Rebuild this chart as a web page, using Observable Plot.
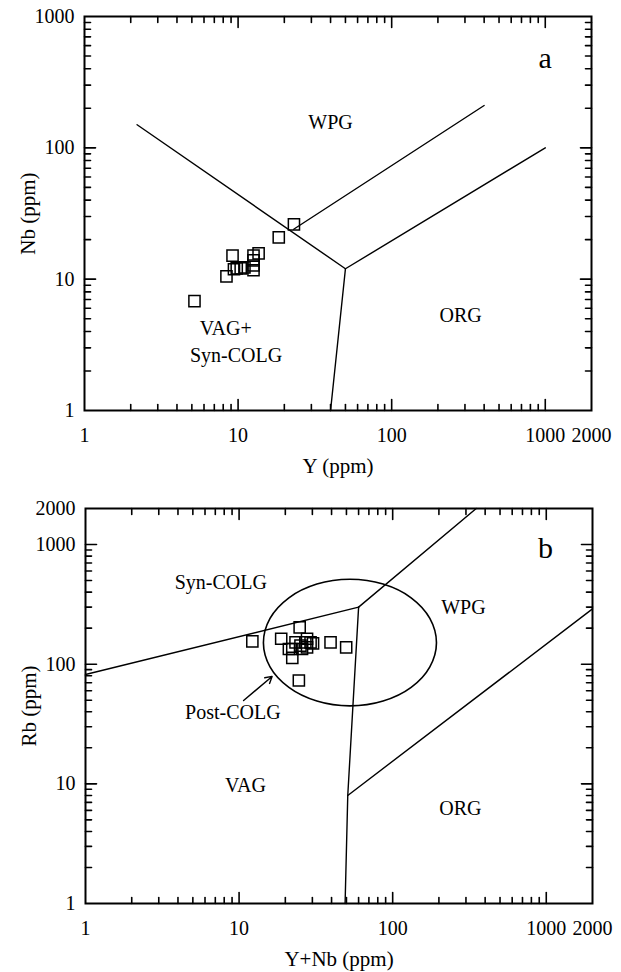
<!DOCTYPE html>
<html>
<head>
<meta charset="utf-8">
<script src="https://cdn.jsdelivr.net/npm/d3@7"></script>
<script src="https://cdn.jsdelivr.net/npm/@observablehq/plot@0.6"></script>
<style>
  html, body { margin: 0; padding: 0; background: white; }
</style>
</head>
<body>
<div id="chart"></div>
<script>
// ---------- Panel a : Nb vs Y ----------
const aY  = [5.2, 8.4, 9.2, 9.4, 9.8, 10.4, 11.0, 12.6, 12.6, 12.6, 12.6, 13.6, 18.4, 23.1];
const aNb = [6.8, 10.5, 15.1, 11.9, 12.1, 12.1, 12.3, 11.7, 12.7, 13.9, 15.1, 15.7, 20.8, 26.1];

const aLineVagWpg   = [[2.2, 150], [50, 12]];
const aLineVagOrg   = [[50, 12], [40, 1]];
const aLineOrgWpg   = [[50, 12], [1000, 100]];
const aLineWpgUpper = [[23, 24], [400, 210]];

const aLabelText = ["WPG", "ORG", "VAG+", "Syn-COLG"];
const aLabelX    = [40, 281, 8.3, 9.7];
const aLabelY    = [156, 5.3, 4.2, 2.62];
const aPanelTag  = ["a"]; const aTagX = [1000]; const aTagY = [480];

// ---------- Panel b : Rb vs Y+Nb ----------
const bYNb = [12.2, 18.8, 24.8, 22.2, 22.2, 24.5, 39.4, 49.8, 23.3, 25.7, 27.7, 29.2, 30.3, 27.7, 25.1, 21.1, 27.0];
const bRb  = [155, 163, 203, 134, 113, 73, 152, 138, 152, 134, 163, 152, 149, 138, 143, 134, 152];

const bLineSynVag = [[1, 82], [60, 300]];
const bLineSynWpg = [[60, 300], [350, 2000]];
const bLineVagWpg = [[60, 300], [51, 8], [49, 1]];
const bLineOrgWpg = [[51, 8], [2000, 290]];
// Post-COLG field outline, points read around the ellipse
const bPostColg = [
  [192.8, 151.4], [174.6, 241.3], [131.9, 358.6], [86.6, 467], [52.7, 512], [32.1, 467],
  [21.1, 358.6], [15.9, 241.3], [14.4, 151.4], [15.9, 95.1], [21.1, 64], [32.1, 49.2],
  [52.7, 44.8], [86.6, 49.2], [131.9, 64], [174.6, 95.1]
];
const bArrow = [{x1: 10.7, y1: 49.7, x2: 16.4, y2: 79}];

const bLabelText = ["Syn-COLG", "WPG", "VAG", "ORG", "Post-COLG"];
const bLabelX    = [7.6, 289, 11, 276, 9.1];
const bLabelY    = [481, 297, 9.7, 6.2, 39.4];
const bPanelTag  = ["b"]; const bTagX = [988]; const bTagY = [925];

// ---------- ticks ----------
const majorTicks = [1, 10, 100, 1000];
const minorTicks = [2, 3, 4, 5, 6, 7, 8, 9, 20, 30, 40, 50, 60, 70, 80, 90, 200, 300, 400, 500, 600, 700, 800, 900];
const xTickLabels  = [1, 10, 100, 1000, 2000];
const aYTickLabels = [1, 10, 100, 1000];
const bYTickLabels = [1, 10, 100, 1000, 2000];

const FONT = "'Liberation Serif', 'Times New Roman', serif";
const W = 621;

function toPts(arr) { return arr.map(([x, y]) => ({x, y})); }

// Inward tick segments on all four sides, as short two-point lines.
// Pixel tick lengths are turned into log-scale factors from the plot's size.
function tickSegments(xDomain, yDomain, pw, ph) {
  const MAJ = 11, MIN = 6;
  const kx = pw / Math.log10(xDomain[1] / xDomain[0]);
  const ky = ph / Math.log10(yDomain[1] / yDomain[0]);
  const fx = L => Math.pow(10, L / kx), fy = L => Math.pow(10, L / ky);
  const segs = [];
  let id = 0;
  const add = (x1, y1, x2, y2) => { segs.push({id, x: x1, y: y1}, {id, x: x2, y: y2}); id++; };
  for (const [list, L] of [[majorTicks, MAJ], [minorTicks, MIN]]) {
    for (const v of list) {
      if (v > xDomain[0] && v < xDomain[1]) {
        add(v, yDomain[0], v, yDomain[0] * fy(L));
        add(v, yDomain[1], v, yDomain[1] / fy(L));
      }
      if (v > yDomain[0] && v < yDomain[1]) {
        add(xDomain[0], v, xDomain[0] * fx(L), v);
        add(xDomain[1], v, xDomain[1] / fx(L), v);
      }
    }
  }
  return segs;
}

function panel({H, mT, mB, mL, mR, xDomain, yDomain, yTickLabels, xTitle, yTitle,
                 px, py, lines, closed, arrows, labels, tag}) {
  const pw = W - mL - mR, ph = H - mT - mB;
  const pts = px.map((x, i) => ({x, y: py[i]}));
  const marks = [
    Plot.line(tickSegments(xDomain, yDomain, pw, ph), {x: "x", y: "y", z: "id", stroke: "black", strokeWidth: 1.6}),
    Plot.frame({stroke: "black", strokeWidth: 2}),
    Plot.axisX(xTickLabels, {anchor: "bottom", tickSize: 0, tickPadding: 17, tickFormat: d => String(d), label: null, fill: "black", fontSize: 20}),
    Plot.axisY(yTickLabels, {anchor: "left", tickSize: 0, tickPadding: 10, tickFormat: d => String(d), label: null, fill: "black", fontSize: 20}),
    Plot.text([xTitle], {frameAnchor: "bottom", dy: 56, lineAnchor: "middle", textAnchor: "middle", text: d => d, fill: "black", fontSize: 21}),
    Plot.text([yTitle], {frameAnchor: "left", dx: -56, rotate: -90, lineAnchor: "middle", textAnchor: "middle", text: d => d, fill: "black", fontSize: 21}),
    ...lines.map(l => Plot.line(toPts(l), {x: "x", y: "y", stroke: "black", strokeWidth: 1.4})),
    ...(closed || []).map(l => Plot.line(toPts(l), {x: "x", y: "y", stroke: "black", strokeWidth: 1.6, curve: "catmull-rom-closed"})),
    ...(arrows ? [Plot.arrow(arrows, {x1: "x1", y1: "y1", x2: "x2", y2: "y2", stroke: "black", strokeWidth: 1.4, headLength: 8})] : []),
    Plot.dot(pts, {x: "x", y: "y", symbol: "square", r: 6.3, stroke: "black", strokeWidth: 1.5, fill: "none"}),
    Plot.text(labels.text.map((t, i) => ({t, x: labels.x[i], y: labels.y[i]})), {x: "x", y: "y", text: "t", fill: "black", fontSize: 20}),
    Plot.text(tag.text.map((t, i) => ({t, x: tag.x[i], y: tag.y[i]})), {x: "x", y: "y", text: "t", fill: "black", fontSize: 30})
  ];
  const svg = Plot.plot({
    width: W, height: H,
    marginTop: mT, marginBottom: mB, marginLeft: mL, marginRight: mR,
    x: {type: "log", domain: xDomain},
    y: {type: "log", domain: yDomain},
    style: {fontFamily: FONT, fontSize: "20px", background: "white"},
    marks
  });
  svg.style.display = "block";
  return svg;
}

const chart = document.getElementById("chart");
chart.appendChild(panel({
  H: 486, mT: 16, mB: 76, mL: 84, mR: 30,
  xDomain: [1, 2000], yDomain: [1, 1000],
  yTickLabels: aYTickLabels,
  xTitle: "Y (ppm)", yTitle: "Nb (ppm)",
  px: aY, py: aNb,
  lines: [aLineVagWpg, aLineVagOrg, aLineOrgWpg, aLineWpgUpper],
  labels: {text: aLabelText, x: aLabelX, y: aLabelY},
  tag: {text: aPanelTag, x: aTagX, y: aTagY}
}));
chart.appendChild(panel({
  H: 486, mT: 22, mB: 69, mL: 85, mR: 29,
  xDomain: [1, 2000], yDomain: [1, 2000],
  yTickLabels: bYTickLabels,
  xTitle: "Y+Nb (ppm)", yTitle: "Rb (ppm)",
  px: bYNb, py: bRb,
  lines: [bLineSynVag, bLineSynWpg, bLineVagWpg, bLineOrgWpg],
  closed: [bPostColg],
  arrows: bArrow,
  labels: {text: bLabelText, x: bLabelX, y: bLabelY},
  tag: {text: bPanelTag, x: bTagX, y: bTagY}
}));
</script>
</body>
</html>
